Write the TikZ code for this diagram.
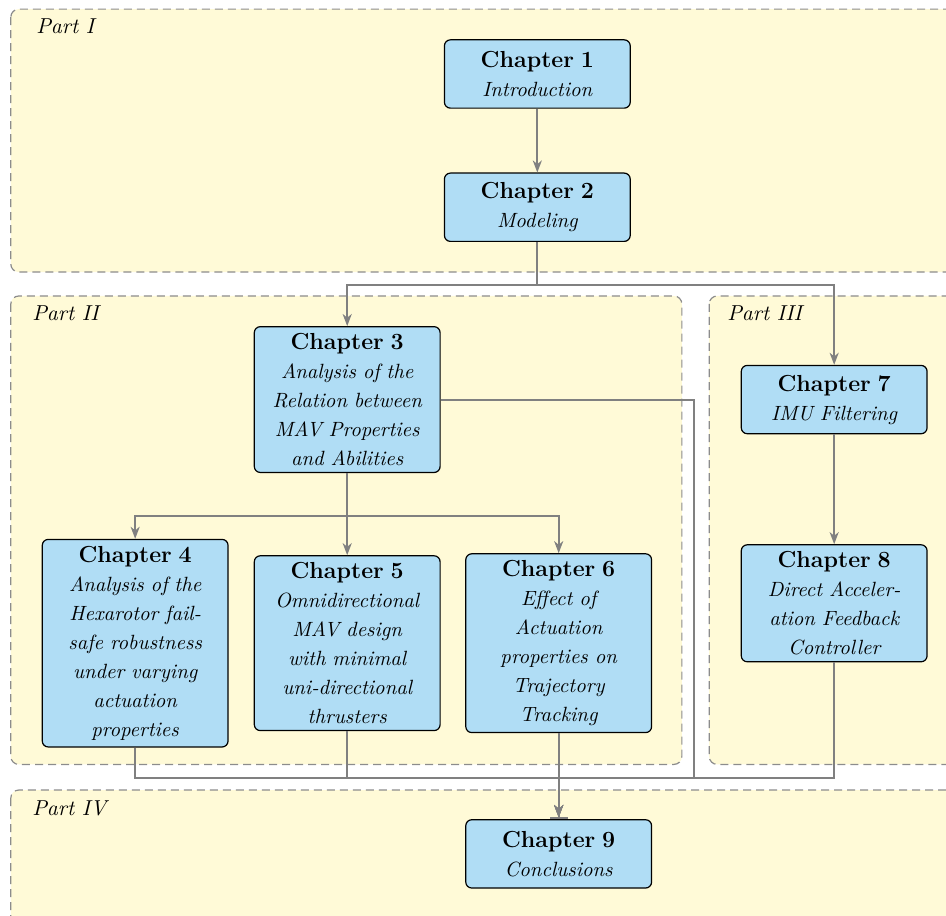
\documentclass[tikz,border=0pt]{standalone}
\usepackage{amsmath}
\usepackage{tikz}
\usetikzlibrary{arrows.meta}
\usetikzlibrary{positioning}
\usetikzlibrary{calc}

\definecolor{chapfill}{RGB}{176,221,245}
\definecolor{partfill}{RGB}{255,250,215}
\newcommand{\chaptitle}[1]{{\fontsize{11.6}{14.5}\selectfont\upshape\bfseries Chapter #1}}

\begin{document}
\begin{tikzpicture}
    [chapter/.style={rectangle, rounded corners=3pt, draw=black, line width=0.6pt, fill=chapfill,
      text width=3.03cm, align=center, minimum height=1.2cm, font=\fontsize{10.3}{14.5}\selectfont\itshape},
    part/.style={draw=black!45, line width=0.6pt, dash pattern=on 4pt off 2.5pt, fill=partfill, rounded corners=4pt},
    partlabel/.style={anchor=base west, inner sep=0pt, font=\fontsize{10.8}{13}\selectfont\itshape},
    link/.style={draw=black!50, line width=1pt, -{Stealth[length=6pt, width=4.5pt, inset=1.8pt]}},
    tolink/.style={link, -{Stealth[length=6pt, width=4.5pt, inset=1.8pt] Bar[width=9pt]}}]
  \useasboundingbox (0,0) rectangle (16.62,-16.08);
  \clip (0,0) rectangle (16.62,-16.08);

  % parts
  \path [part] (0.19,-0.16) rectangle (16.9,-4.78);
  \path [part] (0.19,-5.20) rectangle (11.98,-13.43);
  \path [part] (12.46,-5.20) rectangle (16.9,-13.43);
  \path [part] (0.19,-13.88) rectangle (16.9,-16.4);
  \node [partlabel] (p1) at (0.63,-0.59) {Part I};
  \node [partlabel] (p2) at (0.56,-5.63) {Part II};
  \node [partlabel] (p3) at (12.77,-5.63) {Part III};
  \node [partlabel] (p4) at (0.56,-14.33) {Part IV};

  % chapters
  \node [chapter] (ch1) at (9.44,-1.30) {\chaptitle{1}\\Introduction};
  \node [chapter, below=1.12cm of ch1] (ch2) {\chaptitle{2}\\Modeling};
  \node [chapter] (ch3) at (6.10,-7.02)
    {\chaptitle{3}\\Analysis of the\\Relation between\\MAV Properties\\and Abilities};
  \node [chapter] (ch5) at (6.10,-11.30)
    {\chaptitle{5}\\Omnidirectional\\MAV design\\with minimal\\uni-directional\\thrusters};
  \node [chapter, left=0.44cm of ch5] (ch4)
    {\chaptitle{4}\\Analysis of the\\Hexarotor fail-\\safe robustness\\under varying\\actuation\\properties};
  \node [chapter, right=0.43cm of ch5] (ch6)
    {\chaptitle{6}\\Effect of\\Actuation\\properties on\\Trajectory\\Tracking};
  \node [chapter, right=5.27cm of ch3] (ch7) {\chaptitle{7}\\IMU Filtering};
  \node [chapter, below=1.93cm of ch7] (ch8) {\chaptitle{8}\\Direct Acceler-\\ation Feedback\\Controller};
  \node [chapter, below=1.51cm of ch6] (ch9) {\chaptitle{9}\\Conclusions};

  % links
  \draw [link] (ch1) -- (ch2);
  \draw [link] (ch2.south) -- ++(0,-0.75) coordinate (split2) -| (ch3);
  \draw [link] (split2) -| (ch7);
  \draw [link] (ch3.south) -- ++(0,-0.75) coordinate (split3) -| (ch4);
  \draw [link] (ch3) -- (ch5);
  \draw [link] (split3) -| (ch6);
  \draw [link] (ch7) -- (ch8);

  \coordinate (merge) at ($(ch9.north)+(0,0.72)$);
  \coordinate (bypass) at ($(merge)+(2.37,0)$);
  \draw [tolink] (ch3.east) -| (bypass) -- (merge) -- (ch9);
  \draw [tolink] (ch4) |- (merge) -- (ch9);
  \draw [tolink] (ch5) |- (merge) -- (ch9);
  \draw [tolink] (ch8) |- (merge) -- (ch9);
  \draw [tolink] (ch6) -- (ch9);
\end{tikzpicture}
\end{document}
